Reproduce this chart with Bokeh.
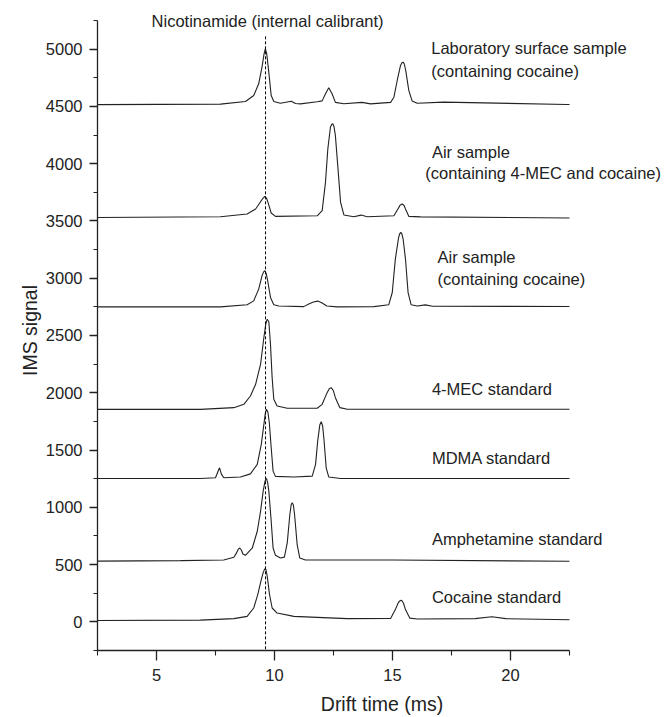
from bokeh.plotting import figure
from bokeh.models import Range1d, FixedTicker
from bokeh.embed import file_html
from bokeh.resources import INLINE
from bokeh.core.properties import value

# ---------------- data ----------------
cocaine_x = [2.5, 6.86, 8.28, 8.84, 9.12, 9.29, 9.44, 9.52, 9.59, 9.64, 9.69, 9.79, 9.9, 10.11,
             10.82, 11.81, 13.08, 14.92, 15.12, 15.24, 15.31, 15.36, 15.41, 15.47, 15.55, 15.73,
             16.05, 18.5, 19.21, 19.8, 22.5]
cocaine_y = [12, 15, 28, 48, 121, 238, 369, 430, 465, 455, 400, 238, 121, 77,
             48, 39, 28, 30, 107, 165, 183, 188, 182, 160, 107, 33,
             25, 28, 45, 28, 19]

amph_x = [2.5, 6.02, 7.85, 8.28, 8.39, 8.46, 8.53, 8.6, 8.66, 8.77, 9.06, 9.27, 9.41, 9.52, 9.6,
          9.66, 9.71, 9.76, 9.86, 9.94, 10.04, 10.25, 10.42, 10.54, 10.65, 10.71, 10.75, 10.8,
          10.85, 10.96, 11.07, 11.31, 15.0, 22.5]
amph_y = [530, 535, 540, 564, 602, 632, 645, 625, 593, 581, 645, 791, 966, 1141, 1230,
          1252, 1215, 1141, 879, 645, 581, 558, 565, 689, 937, 1025, 1039, 1020,
          937, 675, 558, 540, 540, 529]

mdma_x = [2.5, 6.86, 7.5, 7.6, 7.67, 7.75, 7.85, 8.56, 8.98, 9.27, 9.44, 9.55, 9.61, 9.66, 9.72,
          9.78, 9.86, 9.94, 10.04, 10.82, 11.6, 11.74, 11.83, 11.92, 11.98, 12.04, 12.09, 12.19,
          12.3, 12.8, 22.5]
mdma_y = [1252, 1252, 1258, 1310, 1345, 1290, 1258, 1264, 1292, 1375, 1549, 1724, 1820, 1856, 1830,
          1740, 1520, 1316, 1270, 1264, 1272, 1375, 1578, 1720, 1747, 1710, 1607, 1345,
          1264, 1252, 1252]

mec_x = [2.5, 6.86, 8.28, 8.7, 8.98, 9.2, 9.41, 9.55, 9.63, 9.69, 9.76, 9.83, 9.9, 9.97, 10.11,
         10.54, 11.81, 12.02, 12.23, 12.32, 12.4, 12.49, 12.58, 12.77, 13.08, 22.5]
mec_y = [1855, 1855, 1870, 1899, 1972, 2074, 2249, 2482, 2600, 2642, 2620, 2424, 2132, 1943, 1884,
         1865, 1865, 1899, 2001, 2035, 2045, 2020, 1957, 1870, 1856, 1856]

air_coc_x = [2.5, 7.71, 8.84, 9.12, 9.33, 9.47, 9.54, 9.59, 9.65, 9.71, 9.83, 9.97, 10.18, 11.24,
             11.45, 11.65, 11.83, 12.0, 12.22, 12.66, 14.21, 14.84, 14.99, 15.12, 15.26, 15.31,
             15.35, 15.40, 15.45, 15.55, 15.66, 15.79, 16.05, 16.39, 16.7, 22.5]
air_coc_y = [2750, 2750, 2768, 2802, 2905, 3021, 3055, 3065, 3040, 2978, 2832, 2768, 2758, 2752,
             2774, 2792, 2800, 2785, 2758, 2750, 2752, 2768, 2875, 3167, 3356, 3390,
             3400, 3385, 3342, 3167, 2875, 2768, 2758, 2767, 2755, 2753]

air_mec_x = [2.5, 7.71, 8.84, 9.2, 9.41, 9.52, 9.59, 9.66, 9.73, 9.86, 10.04, 11.81, 12.02, 12.16,
             12.26, 12.37, 12.42, 12.47, 12.52, 12.58, 12.68, 12.8, 12.94, 13.36, 13.67, 13.93,
             15.06, 15.23, 15.33, 15.41, 15.49, 15.55, 15.69, 16.19, 22.5]
air_mec_y = [3530, 3537, 3560, 3604, 3668, 3700, 3715, 3700, 3657, 3569, 3540, 3545, 3590, 3837,
             4129, 4318, 4342, 4348, 4325, 4245, 3983, 3662, 3552, 3537, 3551, 3537,
             3545, 3604, 3640, 3648, 3635, 3604, 3540, 3535, 3526]

lab_x = [2.5, 7.71, 8.77, 9.12, 9.33, 9.47, 9.56, 9.61, 9.67, 9.75, 9.86, 9.97, 10.25, 10.71,
         10.89, 11.1, 11.81, 12.02, 12.16, 12.3, 12.44, 12.58, 12.94, 13.71, 14.07, 14.92, 15.06,
         15.2, 15.34, 15.40, 15.45, 15.50, 15.56, 15.69, 15.83, 16.05, 17.17, 22.4, 22.5]
lab_y = [4515, 4520, 4543, 4595, 4697, 4843, 4960, 5003, 4960, 4814, 4595, 4543, 4527, 4545,
         4525, 4522, 4540, 4548, 4610, 4662, 4610, 4535, 4523, 4535, 4522, 4535, 4580,
         4726, 4857, 4880, 4886, 4870, 4814, 4639, 4548, 4527, 4537, 4517, 4517]

traces = [(cocaine_x, cocaine_y), (amph_x, amph_y), (mdma_x, mdma_y), (mec_x, mec_y),
          (air_coc_x, air_coc_y), (air_mec_x, air_mec_y), (lab_x, lab_y)]

# calibrant drift time and its marker extent
nic_x = 9.62
nic_y0, nic_y1 = -240, 5120

# annotation texts and their anchors (data units)
label_text = ["Laboratory surface sample", "(containing cocaine)",
              "Air sample", "(containing 4-MEC and cocaine)",
              "Air sample", "(containing cocaine)",
              "4-MEC standard", "MDMA standard", "Amphetamine standard", "Cocaine standard",
              "Nicotinamide (internal calibrant)"]
label_x = [16.64, 16.64, 16.67, 16.39, 16.91, 16.91, 16.67, 16.67, 16.67, 16.67, 4.79]
label_y = [5009, 4805, 4105, 3916, 3181, 2992, 2030, 1427, 719, 217, 5245]

x_major = [5, 10, 15, 20]
x_minor = [2.5, 7.5, 12.5, 17.5, 22.5]
y_major = [0, 500, 1000, 1500, 2000, 2500, 3000, 3500, 4000, 4500, 5000]
y_minor = [-250, 250, 750, 1250, 1750, 2250, 2750, 3250, 3750, 4250, 4750, 5250]

# ---------------- figure ----------------
FONT = "Liberation Sans"
INK = "#222222"

p = figure(width=666, height=717, output_backend="svg", toolbar_location=None,
           x_range=Range1d(2.5, 26.61), y_range=Range1d(-250, 5337),
           min_border_left=97, min_border_right=0, min_border_top=10, min_border_bottom=67)
p.outline_line_color = None
p.grid.visible = False
p.background_fill_color = "white"
p.border_fill_color = "white"

for xs, ys in traces:
    p.line(xs, ys, line_color=INK, line_width=1.1)

p.segment(x0=[nic_x], y0=[nic_y0], x1=[nic_x], y1=[nic_y1],
          line_color="black", line_width=1, line_dash="3 2")

p.text(x=label_x, y=label_y, text=label_text, text_font=value(FONT),
       text_font_size="16.5px", text_color=INK, text_align="left", text_baseline="middle")

# axes
p.xaxis.ticker = FixedTicker(ticks=x_major, minor_ticks=x_minor)
p.yaxis.ticker = FixedTicker(ticks=y_major, minor_ticks=y_minor)
p.xaxis.bounds = (2.5, 22.5)
p.yaxis.bounds = (-250, 5250)

for ax in (p.xaxis, p.yaxis):
    ax.axis_line_color = INK
    ax.axis_line_width = 1.3
    ax.major_tick_line_color = INK
    ax.minor_tick_line_color = INK
    ax.major_tick_line_width = 1.3
    ax.minor_tick_line_width = 1.1
    ax.major_tick_in = 0
    ax.minor_tick_in = 0
    ax.major_label_text_font = FONT
    ax.major_label_text_font_size = "16.5px"
    ax.major_label_text_color = INK
    ax.axis_label_text_font = FONT
    ax.axis_label_text_font_size = "19.5px"
    ax.axis_label_text_font_style = "normal"
    ax.axis_label_text_color = INK

p.xaxis.major_tick_out = 10
p.xaxis.minor_tick_out = 5
p.yaxis.major_tick_out = 8
p.yaxis.minor_tick_out = 4
p.xaxis.major_label_standoff = 8
p.yaxis.major_label_standoff = 7
p.xaxis.axis_label = "Drift time (ms)"
p.yaxis.axis_label = "IMS signal"
p.xaxis.axis_label_standoff = 9
p.yaxis.axis_label_standoff = 2

open("out.html", "w").write(file_html(p, INLINE))
